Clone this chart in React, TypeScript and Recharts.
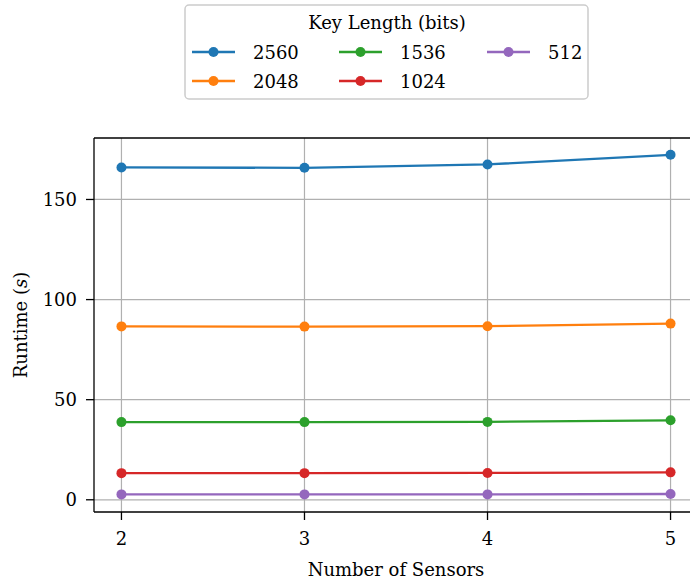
import { Legend, Line, LineChart, CartesianGrid, ReferenceLine, XAxis, YAxis } from 'recharts'

const sensors = [2, 3, 4, 5]
const k2560 = [166.0, 165.8, 167.5, 172.3]
const k2048 = [86.6, 86.5, 86.7, 88.0]
const k1536 = [38.8, 38.8, 38.9, 39.7]
const k1024 = [13.3, 13.3, 13.4, 13.7]
const k512 = [2.7, 2.7, 2.7, 2.9]

const xTicks = [2, 3, 4, 5]
const yTicks = [0, 50, 100, 150]

const series = [
  { key: 'k2560', name: '2560', color: '#1f77b4', values: k2560 },
  { key: 'k2048', name: '2048', color: '#ff7f0e', values: k2048 },
  { key: 'k1536', name: '1536', color: '#2ca02c', values: k1536 },
  { key: 'k1024', name: '1024', color: '#d62728', values: k1024 },
  { key: 'k512', name: '512', color: '#9467bd', values: k512 },
]

const data = sensors.map((s, i) => {
  const row: Record<string, number> = { sensors: s }
  series.forEach((sr) => {
    row[sr.key] = sr.values[i]
  })
  return row
})

const FONT = '"DejaVu Serif", serif'
const FONT_SIZE = 18

// matplotlib style legend, 3 columns filled column-first
function KeyLegend() {
  const colX = [8, 155, 303]
  const rowY = [48, 77]
  return (
    <svg width={405} height={96} style={{ display: 'block', overflow: 'visible' }}>
      <rect x={1} y={1} width={403} height={94} rx={4} fill="#fff" stroke="#cccccc" strokeWidth={1.5} />
      <text x={203} y={18} textAnchor="middle" dominantBaseline="central" fontFamily={FONT} fontSize={FONT_SIZE} fill="#000">
        Key Length (bits)
      </text>
      {series.map((s, i) => {
        const cx = colX[Math.floor(i / 2)]
        const cy = rowY[i % 2]
        return (
          <g key={s.key}>
            <line x1={cx} x2={cx + 43} y1={cy} y2={cy} stroke={s.color} strokeWidth={2.3} />
            <circle cx={cx + 21.5} cy={cy} r={5} fill={s.color} />
            <text x={cx + 61} y={cy} dominantBaseline="central" fontFamily={FONT} fontSize={FONT_SIZE} fill="#000">
              {s.name}
            </text>
          </g>
        )
      })}
    </svg>
  )
}

function RuntimeLabel(props: { viewBox?: { x: number; y: number; width: number; height: number } }) {
  const vb = props.viewBox || { x: 0, y: 0, width: 0, height: 0 }
  const cx = vb.x + 20
  const cy = vb.y + vb.height / 2
  return (
    <text
      x={cx}
      y={cy}
      transform={`rotate(-90, ${cx}, ${cy})`}
      textAnchor="middle"
      dominantBaseline="central"
      fontFamily={FONT}
      fontSize={FONT_SIZE}
      fill="#000"
    >
      Runtime (<tspan fontStyle="italic">s</tspan>)
    </text>
  )
}

function SensorsLabel(props: { viewBox?: { x: number; y: number; width: number; height: number } }) {
  const vb = props.viewBox || { x: 0, y: 0, width: 0, height: 0 }
  // centre on the visible part of the axes (right spine sits just outside the crop)
  const cx = vb.x + vb.width / 2
  return (
    <text x={cx} y={vb.y + 64} textAnchor="middle" fontFamily={FONT} fontSize={FONT_SIZE} fill="#000">
      Number of Sensors
    </text>
  )
}

export default function App() {
  return (
    <div style={{ position: 'absolute', left: 0, top: 0, width: 690, height: 581, overflow: 'hidden', background: '#fff' }}>
      <LineChart width={710} height={581} data={data} margin={{ top: 138, right: 12, bottom: 0, left: 0 }}>
        <CartesianGrid stroke="#b0b0b0" strokeWidth={1.2} verticalValues={xTicks} horizontalValues={yTicks} />
        <XAxis
          dataKey="sensors"
          type="number"
          domain={[1.85, 5.15]}
          ticks={xTicks}
          allowDataOverflow
          height={69}
          stroke="#000"
          strokeWidth={1.3}
          tickSize={8}
          tickMargin={12}
          tick={{ fill: '#000', fontFamily: FONT, fontSize: FONT_SIZE }}
          label={<SensorsLabel />}
        />
        <YAxis
          type="number"
          domain={[-6.1, 180.7]}
          ticks={yTicks}
          allowDataOverflow
          width={94}
          stroke="#000"
          strokeWidth={1.3}
          tickSize={8}
          tickMargin={9}
          tick={{ fill: '#000', fontFamily: FONT, fontSize: FONT_SIZE }}
          label={<RuntimeLabel />}
        />
        <ReferenceLine y={180.7} stroke="#000" strokeWidth={1.3} />
        <ReferenceLine x={5.15} stroke="#000" strokeWidth={1.3} />
        {series.map((s) => (
          <Line
            key={s.key}
            dataKey={s.key}
            name={s.name}
            stroke={s.color}
            strokeWidth={2.3}
            dot={{ r: 5, fill: s.color, stroke: s.color, strokeWidth: 0 }}
            activeDot={false}
            isAnimationActive={false}
          />
        ))}
        <Legend
          layout="vertical"
          align="center"
          verticalAlign="middle"
          wrapperStyle={{ left: 184, top: 4, width: 405, height: 96 }}
          content={() => <KeyLegend />}
        />
      </LineChart>
    </div>
  )
}
